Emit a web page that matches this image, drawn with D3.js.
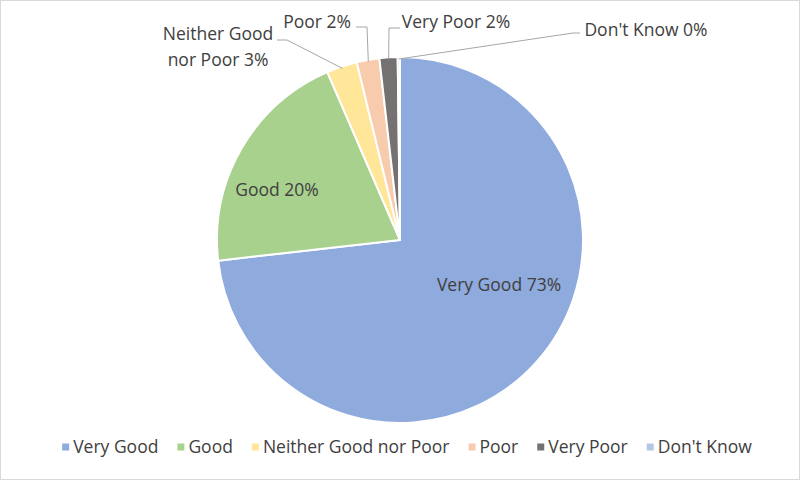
<!DOCTYPE html>
<html><head><meta charset="utf-8">
<script src="https://cdn.jsdelivr.net/npm/d3@7"></script>
<style>html,body{margin:0;padding:0;background:#fff}</style>
</head><body>
<svg id="c" width="800" height="480"></svg>
<script>
const categories = ["Very Good","Good","Neither Good nor Poor","Poor","Very Poor","Don't Know"];
const values = [73.2, 20.3, 2.7, 2.0, 1.6, 0.2];
const colors = ["#8faadc","#a9d18e","#ffe699","#f8cbad","#767171","#b4c7e7"];
const labelLines = [["Very Good 73%"],["Good 20%"],["Neither Good","nor Poor 3%"],["Poor 2%"],["Very Poor 2%"],["Don't Know 0%"]];

const W=800,H=480,cx=400,cy=240,R=183;
const FONT="'Open Sans', sans-serif";
const FS=17.5;
const svg=d3.select("#c");
svg.append("rect").attr("x",0.5).attr("y",0.5).attr("width",W-1).attr("height",H-1)
  .attr("fill","#fff").attr("stroke","#d9d9d9");

const pie=d3.pie().sort(null).value(d=>d.v).startAngle(0).endAngle(2*Math.PI);
const data=categories.map((c,i)=>({c,v:values[i],col:colors[i],lab:labelLines[i]}));
const arcs=pie(data);
const arc=d3.arc().innerRadius(0).outerRadius(R);
const g=svg.append("g").attr("transform",`translate(${cx},${cy})`);
g.selectAll("path").data(arcs).join("path").attr("d",arc)
  .attr("fill",d=>d.data.col).attr("stroke","#fff").attr("stroke-width",2).attr("stroke-linejoin","round");

const layout={
  "Very Good":{x:99,y:45,a:"middle"},
  "Good":{x:-123,y:-50,a:"middle"},
  "Neither Good nor Poor":{x:-182,y:-193,a:"middle",elbow:[[-113,-200],[-123,-200]],lh:26.5},
  "Poor":{x:-83,y:-218,a:"middle",elbow:[[-33,-213],[-44,-213]]},
  "Very Poor":{x:56,y:-218,a:"middle",elbow:[[-11,-212],[0,-212]]},
  "Don't Know":{x:246,y:-210,a:"middle",elbow:[[173,-207],[180,-207]]}
};
const pt=(a,r)=>[Math.sin(a)*r,-Math.cos(a)*r];
arcs.forEach(d=>{
  const L=layout[d.data.c];
  if(L.elbow){
    const p0=pt((d.startAngle+d.endAngle)/2,R-2);
    g.append("polyline").attr("points",[p0,...L.elbow].map(p=>p.join(",")).join(" "))
      .attr("fill","none").attr("stroke","#a6a6a6").attr("stroke-width",1);
  }
  const lh=L.lh||20;
  const n=d.data.lab.length;
  const t=g.append("text").attr("x",L.x).attr("y",L.y).attr("text-anchor",L.a)
    .attr("font-family",FONT).attr("font-size",FS).attr("fill","#404040");
  d.data.lab.forEach((s,i)=>{
    t.append("tspan").attr("x",L.x).attr("y",L.y+(i-(n-1)/2)*lh).attr("dy","0.35em").text(s);
  });
});

const lg=svg.append("g");
let x=0;
const GAP=19;
data.forEach(d=>{
  const it=lg.append("g").attr("transform",`translate(${x},0)`);
  it.append("rect").attr("x",0).attr("y",-3.5).attr("width",7).attr("height",7).attr("fill",d.col);
  const tx=it.append("text").attr("x",11).attr("y",0).attr("dy","0.35em")
    .attr("font-family",FONT).attr("font-size",FS).attr("fill","#404040").text(d.c);
  const w=11+tx.node().getComputedTextLength();
  x+=w+GAP;
});
const total=x-GAP;
lg.attr("transform",`translate(${407-total/2},447)`);
</script>
</body></html>
